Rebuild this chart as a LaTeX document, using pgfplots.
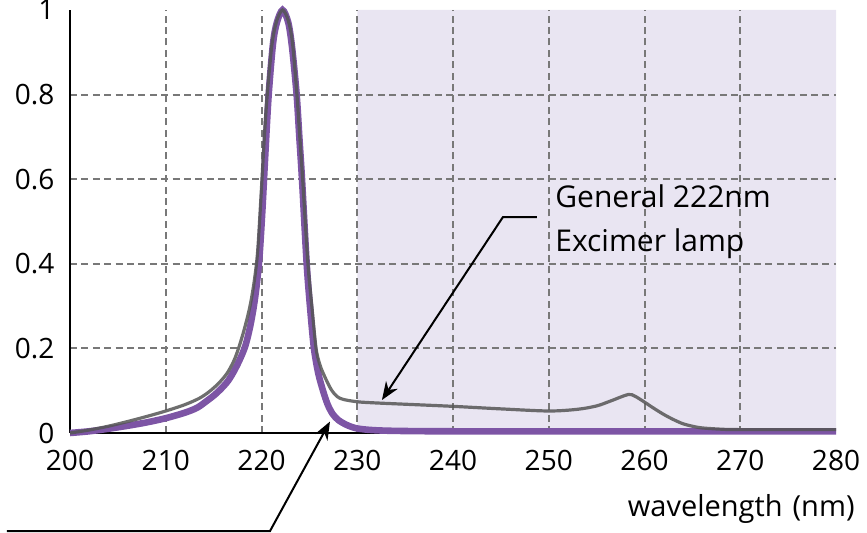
\documentclass[border=0pt]{standalone}
\usepackage{fontspec}
\setmainfont{Open Sans}
\setsansfont{Open Sans}
\usepackage{pgfplots}
\pgfplotsset{compat=1.18}
\usetikzlibrary{arrows.meta}
\definecolor{lampgray}{RGB}{85,85,85}
\definecolor{filterpurple}{RGB}{125,85,165}
\definecolor{shade}{RGB}{233,229,242}
\definecolor{gridgray}{RGB}{120,120,120}
\begin{document}
\begin{tikzpicture}
\begin{axis}[
  scale only axis,
  width=383pt, height=211.5pt,
  xmin=200, xmax=280, ymin=0, ymax=1,
  axis lines=left,
  axis line style={-, line width=1pt, black},
  xtick={200,210,...,270},
  ytick={0,0.2,0.4,0.6,0.8},
  extra x ticks={280},
  extra y ticks={1},
  extra tick style={grid=none},
  major tick length=0pt,
  grid=major,
  grid style={dash pattern=on 3.5pt off 2.2pt, line width=1pt, gridgray},
  ticklabel style={font=\fontsize{14}{16}\selectfont},
  /pgf/number format/assume math mode=true,
  yticklabel style={xshift=-4.3pt},
  xticklabel style={yshift=-5.3pt},
  clip=false,
  set layers,
]
% shaded band 230-280 nm
\addplot[on layer=axis background, fill=shade, draw=none]
  coordinates {(230,0) (280,0) (280,1) (230,1)} \closedcycle;

% filtered lamp (purple)
\addplot[filterpurple, line width=3.3pt, smooth, tension=0.5] coordinates {
  (200,0) (202,0.004) (204,0.01) (206,0.017) (208,0.025) (210,0.035)
  (212,0.048) (213.3,0.06) (214.3,0.076) (215.1,0.09) (215.8,0.105)
  (216.5,0.123) (217.1,0.145) (217.7,0.172) (218.3,0.205) (218.8,0.25)
  (219.2,0.3) (219.5,0.35) (219.8,0.42) (220.1,0.53) (220.4,0.66)
  (220.75,0.8) (221.2,0.92) (221.6,0.97) (222.2,1.0) (222.8,0.97)
  (223.2,0.91) (223.67,0.8) (223.95,0.7) (224.23,0.6) (224.72,0.4)
  (225.1,0.29) (225.48,0.2) (225.93,0.141) (226.45,0.098) (226.9,0.068)
  (227.4,0.046) (228,0.031) (228.9,0.019) (229.94,0.011) (231.5,0.007)
  (234,0.005) (240,0.004) (260,0.004) (280,0.004)
};

% general 222nm excimer lamp (gray)
\addplot[lampgray, line width=1.6pt, opacity=0.85, smooth, tension=0.5] coordinates {
  (200,0) (202,0.007) (204,0.016) (206,0.027) (208,0.039) (210,0.052)
  (212,0.067) (213.5,0.082) (214.5,0.097) (215.5,0.117) (216.4,0.141)
  (217.1,0.17) (217.6,0.2) (218.2,0.245) (218.8,0.3) (219.25,0.36)
  (219.6,0.43) (219.95,0.56) (220.3,0.7) (220.6,0.8) (221.1,0.92)
  (221.6,0.975) (222.2,1.0) (222.8,0.975) (223.25,0.92) (223.7,0.8)
  (224.0,0.7) (224.3,0.6) (224.85,0.4) (225.3,0.29) (225.7,0.2)
  (226.05,0.165) (226.45,0.141) (227.3,0.102) (228.2,0.082) (229.94,0.074)
  (232,0.071) (235,0.068) (240,0.063) (245,0.057) (250,0.052) (253,0.056)
  (255,0.064) (256.5,0.076) (258.3,0.091) (259,0.087) (260,0.073)
  (261,0.058) (262,0.044) (263,0.032) (264,0.022) (265,0.016)
  (266,0.012) (268,0.009) (270,0.008) (280,0.008)
};

% annotations
\draw[line width=1pt, -{Stealth[length=9pt,width=7pt]}]
  (axis cs:248.77,0.5106) -- (axis cs:245.22,0.5106) -- (axis cs:232.58,0.078);
\draw[line width=1pt, -{Stealth[length=9pt,width=7pt]}]
  (axis cs:193.42,-0.2317) -- (axis cs:220.89,-0.2317) -- (axis cs:227.15,0.027);
\node[anchor=base west, inner sep=0pt, font=\fontsize{15}{18}\selectfont]
  at (axis cs:250.65,0.532) {General 222nm};
\node[anchor=base west, inner sep=0pt, font=\fontsize{15}{18}\selectfont]
  at (axis cs:250.65,0.428) {Excimer lamp};
\node[anchor=base east, inner sep=0pt, xshift=9.5pt, yshift=-42pt,
  font=\fontsize{14.5}{17}\selectfont] at (axis cs:280,0) {wavelength\hspace{5pt}(nm)};

\coordinate (bl) at (rel axis cs:0,0);
\end{axis}
\pgfresetboundingbox
\path[use as bounding box] (bl) ++(-35pt,-50pt) rectangle ++(433.5pt,266.5pt);
\end{tikzpicture}
\end{document}
